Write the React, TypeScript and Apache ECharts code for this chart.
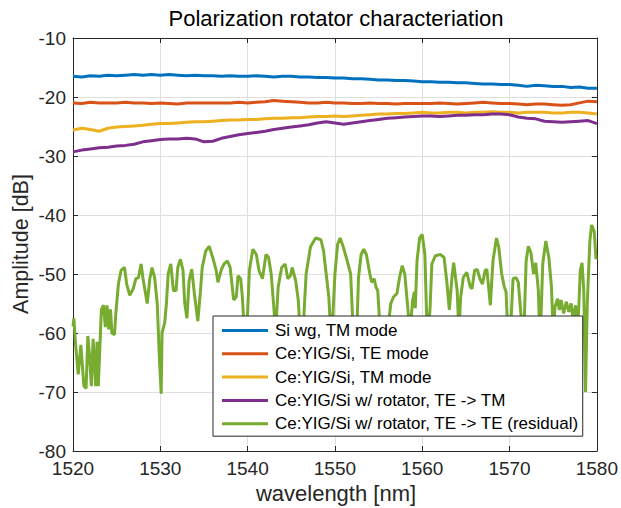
import React, { useEffect, useRef } from "react";
import * as echarts from "echarts";

const titleText = "Polarization rotator characteriation";
const xName = "wavelength [nm]";
const yName = "Amplitude [dB]";
const seriesNames = [
  "Si wg, TM mode",
  "Ce:YIG/Si, TE mode",
  "Ce:YIG/Si, TM mode",
  "Ce:YIG/Si w/ rotator, TE -> TM",
  "Ce:YIG/Si w/ rotator, TE -> TE (residual)",
];
const colors = ["#0072BD", "#D95319", "#EDB120", "#7E2F8E", "#77AC30"];

const wavelengths = [
  1520, 1521, 1522, 1523, 1524, 1525, 1526, 1527, 1528, 1529, 1530, 1531, 1532, 1533, 1534, 1535,
  1536, 1537, 1538, 1539, 1540, 1541, 1542, 1543, 1544, 1545, 1546, 1547, 1548, 1549, 1550, 1551,
  1552, 1553, 1554, 1555, 1556, 1557, 1558, 1559, 1560, 1561, 1562, 1563, 1564, 1565, 1566, 1567,
  1568, 1569, 1570, 1571, 1572, 1573, 1574, 1575, 1576, 1577, 1578, 1579, 1580,
];

const siWgTM = [
  -16.5, -16.6, -16.4, -16.5, -16.3, -16.4, -16.3, -16.2, -16.3, -16.2, -16.3, -16.2, -16.3, -16.4, -16.3, -16.4,
  -16.4, -16.5, -16.4, -16.5, -16.5, -16.4, -16.5, -16.6, -16.5, -16.5, -16.6, -16.6, -16.7, -16.7, -16.8, -16.8,
  -16.9, -16.9, -17.0, -17.1, -17.1, -17.2, -17.2, -17.3, -17.4, -17.4, -17.5, -17.5, -17.6, -17.6, -17.7, -17.8,
  -17.8, -17.9, -17.9, -18.0, -18.2, -18.0, -18.1, -18.2, -18.2, -18.4, -18.3, -18.5, -18.5,
];
const ceYigTE = [
  -21.0, -21.1, -20.9, -21.0, -21.0, -21.0, -20.9, -21.0, -21.0, -21.1, -21.0, -21.1, -21.2, -21.0, -21.0, -21.0,
  -21.0, -21.0, -21.0, -20.9, -21.0, -20.9, -20.8, -20.6, -20.7, -20.8, -20.9, -21.0, -21.0, -20.9, -21.0, -21.0,
  -21.1, -21.1, -21.0, -21.1, -21.1, -21.2, -21.1, -21.1, -21.1, -21.1, -21.0, -21.1, -21.2, -21.1, -21.0, -20.9,
  -21.0, -21.1, -21.1, -21.2, -21.3, -21.2, -21.2, -21.3, -21.4, -21.3, -21.0, -20.7, -20.8,
];
const ceYigTM = [
  -25.6, -25.3, -25.5, -25.8, -25.3, -25.1, -25.0, -24.9, -24.8, -24.6, -24.5, -24.5, -24.4, -24.3, -24.2, -24.2,
  -24.1, -24.0, -23.9, -23.9, -23.8, -23.8, -23.7, -23.6, -23.6, -23.5, -23.5, -23.4, -23.3, -23.3, -23.2, -23.3,
  -23.2, -23.1, -23.0, -22.9, -22.9, -22.8, -22.8, -22.7, -22.6, -22.7, -22.7, -22.6, -22.6, -22.7, -22.6, -22.6,
  -22.5, -22.6, -22.6, -22.7, -22.6, -22.6, -22.6, -22.7, -22.7, -22.6, -22.6, -22.7, -22.9,
];
const rotatorTETM = [
  -29.3, -29.0, -28.8, -28.6, -28.5, -28.3, -28.2, -28.0, -27.6, -27.4, -27.2, -27.1, -27.1, -27.0, -27.1, -27.6,
  -27.5, -27.0, -26.7, -26.4, -26.2, -26.0, -25.8, -25.5, -25.3, -25.1, -24.9, -24.7, -24.4, -24.2, -24.4, -24.6,
  -24.4, -24.2, -24.0, -23.8, -23.6, -23.5, -23.4, -23.3, -23.2, -23.2, -23.3, -23.2, -23.1, -23.1, -23.0, -23.0,
  -22.9, -22.9, -23.0, -23.4, -23.6, -23.7, -24.1, -24.2, -24.3, -24.2, -24.1, -24.0, -24.5,
];

const residualX = [
  1520.0, 1520.1, 1520.3, 1520.6, 1520.9, 1521.25, 1521.5, 1521.7, 1521.9, 1522.1, 1522.3, 1522.6, 1522.75, 1522.9,
  1523.25, 1523.5, 1523.7, 1523.9, 1524.1, 1524.3, 1524.45, 1524.75, 1524.9, 1525.2, 1525.5, 1525.9, 1526.15, 1526.5,
  1526.9, 1527.2, 1527.5, 1527.8, 1528.0, 1528.5, 1528.8, 1529.05, 1529.35, 1529.65, 1529.9, 1530.1, 1530.2, 1530.5,
  1530.7, 1530.9, 1531.2, 1531.5, 1531.8, 1532.0, 1532.3, 1532.6, 1532.8, 1533.05, 1533.3, 1533.6, 1533.9, 1534.3,
  1534.6, 1534.8, 1535.2, 1535.6, 1536.0, 1536.4, 1536.6, 1537.0, 1537.3, 1537.7, 1538.0, 1538.4, 1538.7, 1538.9,
  1539.2, 1539.4, 1539.7, 1539.9, 1540.2, 1540.6, 1541.0, 1541.3, 1541.7, 1542.1, 1542.4, 1542.7, 1543.0, 1543.2,
  1543.5, 1543.9, 1544.3, 1544.6, 1544.9, 1545.1, 1545.5, 1545.8, 1546.1, 1546.3, 1546.7, 1547.2, 1547.8, 1548.4,
  1548.7, 1549.0, 1549.3, 1549.6, 1550.0, 1550.3, 1550.6, 1550.95, 1551.3, 1551.8, 1552.1, 1552.5, 1552.7, 1553.0,
  1553.3, 1553.6, 1554.0, 1554.2, 1554.5, 1554.7, 1554.9, 1555.2, 1555.6, 1556.0, 1556.4, 1556.7, 1557.1, 1557.4,
  1557.7, 1558.0, 1558.3, 1558.6, 1558.9, 1559.1, 1559.2, 1559.4, 1559.7, 1560.0, 1560.3, 1560.6, 1560.9, 1561.1,
  1561.5, 1562.1, 1562.5, 1562.8, 1563.1, 1563.4, 1563.6, 1564.0, 1564.2, 1564.4, 1564.7, 1565.1, 1565.5, 1565.7,
  1566.0, 1566.3, 1566.6, 1566.9, 1567.2, 1567.4, 1567.6, 1567.8, 1568.1, 1568.5, 1568.75, 1569.1, 1569.4, 1569.6,
  1569.8, 1570.1, 1570.4, 1570.75, 1571.0, 1571.3, 1571.6, 1571.9, 1572.15, 1572.45, 1572.75, 1573.0, 1573.3, 1573.5,
  1573.8, 1574.15, 1574.5, 1574.8, 1575.0, 1575.2, 1575.5, 1575.7, 1575.9, 1576.2, 1576.5, 1576.8, 1577.05, 1577.3,
  1577.55, 1577.7, 1577.9, 1578.1, 1578.3, 1578.5, 1578.7, 1578.9, 1579.2, 1579.4, 1579.7, 1579.9,
];
const residualY = [
  -58.9, -57.5, -62, -67, -62, -69, -69.4, -60.5, -64, -69, -61, -69, -61.5, -69,
  -56, -55.3, -59, -55.3, -59.4, -56, -60, -60.3, -56.7, -51.7, -49.4, -48.9, -51.7, -53.6,
  -52.5, -50.8, -50.6, -48.3, -50.6, -55, -50.8, -48.9, -50.6, -55, -64.4, -70.3, -60, -58.3,
  -55, -50, -48.3, -52.8, -52.8, -48.9, -47.5, -49.4, -55, -57.5, -51.1, -49.2, -53.3, -58,
  -52.8, -48.9, -46.1, -45.3, -47.2, -49.4, -51.4, -49.2, -48.3, -47.8, -48.9, -54.4, -53.9, -50.3,
  -50.8, -53.9, -62, -60, -49.4, -45.8, -46.7, -49.4, -50.8, -46.7, -47.2, -50, -55.6, -60,
  -52.2, -48.9, -48.3, -50.8, -50.3, -48.9, -51.1, -54.4, -62, -61, -50, -45.4, -43.9, -44.2,
  -46.1, -50, -53.9, -62, -50, -45, -43.9, -45.4, -47.2, -50, -60, -60, -50.6, -46.7,
  -45.8, -46.7, -50, -51.4, -50.8, -52.2, -52.8, -60, -64, -60, -55, -53.9, -53.3, -50.6,
  -48.6, -50, -55, -60, -54.4, -53, -55.8, -47.8, -43.9, -43.3, -46.7, -62, -55.6, -48.3,
  -46.9, -46.7, -47.2, -51.1, -56.1, -50.6, -48.1, -52.8, -60, -53.9, -50.6, -49.7, -52.2, -52.5,
  -49.4, -49.2, -50.8, -51.7, -49.4, -49.2, -52.2, -55.3, -47.8, -43.9, -45.3, -50, -52.2, -53,
  -60, -60, -50.8, -50.6, -51.4, -56.7, -62, -47.8, -45.3, -46.4, -50, -48.1, -52.8, -62,
  -48.3, -44.4, -47.2, -52.2, -60, -55.6, -54.2, -56.1, -54.4, -56.7, -54.7, -56.4, -55, -58,
  -55.3, -58, -56.7, -49.4, -48.1, -52.8, -70, -55, -44.4, -41.7, -42.8, -47.5,
];

const FONT = "'Liberation Sans', Arial, Helvetica, sans-serif";
const AXIS_COLOR = "#262626";
const LEGEND_ICON = "path://M0,0 L46,0 L46,3 L0,3 Z";

export default function App() {
  const ref = useRef<HTMLDivElement>(null);
  useEffect(() => {
    document.body.style.margin = "0";
    if (!ref.current) return;
    const chart = echarts.init(ref.current, undefined, { renderer: "svg" });
    const smooth = [siWgTM, ceYigTE, ceYigTM, rotatorTETM];
    const series: any[] = smooth.map((vals, i) => ({
      name: seriesNames[i],
      type: "line",
      data: wavelengths.map((w, j) => [w, vals[j]]),
      showSymbol: false,
      symbol: "none",
      lineStyle: { color: colors[i], width: 3 },
      itemStyle: { color: colors[i] },
      z: 2,
    }));
    series.push({
      name: seriesNames[4],
      type: "line",
      data: residualX.map((w, j) => [w, residualY[j]]),
      showSymbol: false,
      symbol: "none",
      lineStyle: { color: colors[4], width: 3 },
      itemStyle: { color: colors[4] },
      z: 3,
    });
    const commonX = {
      type: "value",
      min: 1520,
      max: 1580,
      interval: 10,
      gridIndex: 0,
      axisLine: { show: true, onZero: false, lineStyle: { color: AXIS_COLOR, width: 1 } },
      axisTick: { show: true, inside: true, length: 5, lineStyle: { color: AXIS_COLOR } },
    };
    const commonY = {
      type: "value",
      min: -80,
      max: -10,
      interval: 10,
      gridIndex: 0,
      axisLine: { show: true, onZero: false, lineStyle: { color: AXIS_COLOR, width: 1 } },
      axisTick: { show: true, inside: true, length: 5, lineStyle: { color: AXIS_COLOR } },
    };
    chart.setOption({
      animation: false,
      backgroundColor: "#ffffff",
      grid: { left: 73, top: 38, right: 19, bottom: 57, containLabel: false },
      xAxis: [
        {
          ...commonX,
          position: "bottom",
          axisLabel: {
            show: true,
            color: AXIS_COLOR,
            fontSize: 19,
            fontFamily: FONT,
            margin: 8,
            formatter: (v: number) => String(v),
          },
          splitLine: { show: true, lineStyle: { color: "#dfdfdf", width: 1 } },
        },
        {
          ...commonX,
          position: "top",
          axisLabel: { show: false },
          splitLine: { show: false },
        },
      ],
      yAxis: [
        {
          ...commonY,
          position: "left",
          axisLabel: {
            show: true,
            color: AXIS_COLOR,
            fontSize: 19,
            fontFamily: FONT,
            margin: 7,
            formatter: (v: number) => String(v),
          },
          splitLine: { show: true, lineStyle: { color: "#dfdfdf", width: 1 } },
        },
        {
          ...commonY,
          position: "right",
          axisLabel: { show: false },
          splitLine: { show: false },
        },
      ],
      legend: {
        show: true,
        orient: "vertical",
        left: 213,
        top: 316,
        align: "left",
        data: seriesNames.map((n) => ({ name: n, icon: LEGEND_ICON })),
        itemWidth: 46,
        itemHeight: 14,
        itemGap: 6.3,
        padding: [6, 4, 4, 9],
        backgroundColor: "#ffffff",
        borderColor: AXIS_COLOR,
        borderWidth: 1,
        borderRadius: 0,
        textStyle: { color: "#000000", fontSize: 17, fontFamily: FONT, padding: [0, 0, 0, 2] },
        z: 10,
      },
      graphic: [
        {
          type: "text",
          x: 336,
          y: 18,
          style: {
            text: titleText,
            fill: "#000000",
            font: `22px ${FONT}`,
            textAlign: "center",
            textVerticalAlign: "middle",
          },
        },
        {
          type: "text",
          x: 336,
          y: 493,
          style: {
            text: xName,
            fill: AXIS_COLOR,
            font: `22px ${FONT}`,
            textAlign: "center",
            textVerticalAlign: "middle",
          },
        },
        {
          type: "text",
          x: 21,
          y: 244,
          rotation: Math.PI / 2,
          style: {
            text: yName,
            fill: AXIS_COLOR,
            font: `21.5px ${FONT}`,
            textAlign: "center",
            textVerticalAlign: "middle",
          },
        },
      ],
      series,
    });
    return () => chart.dispose();
  }, []);
  return <div ref={ref} style={{ width: 621, height: 508 }} />;
}
